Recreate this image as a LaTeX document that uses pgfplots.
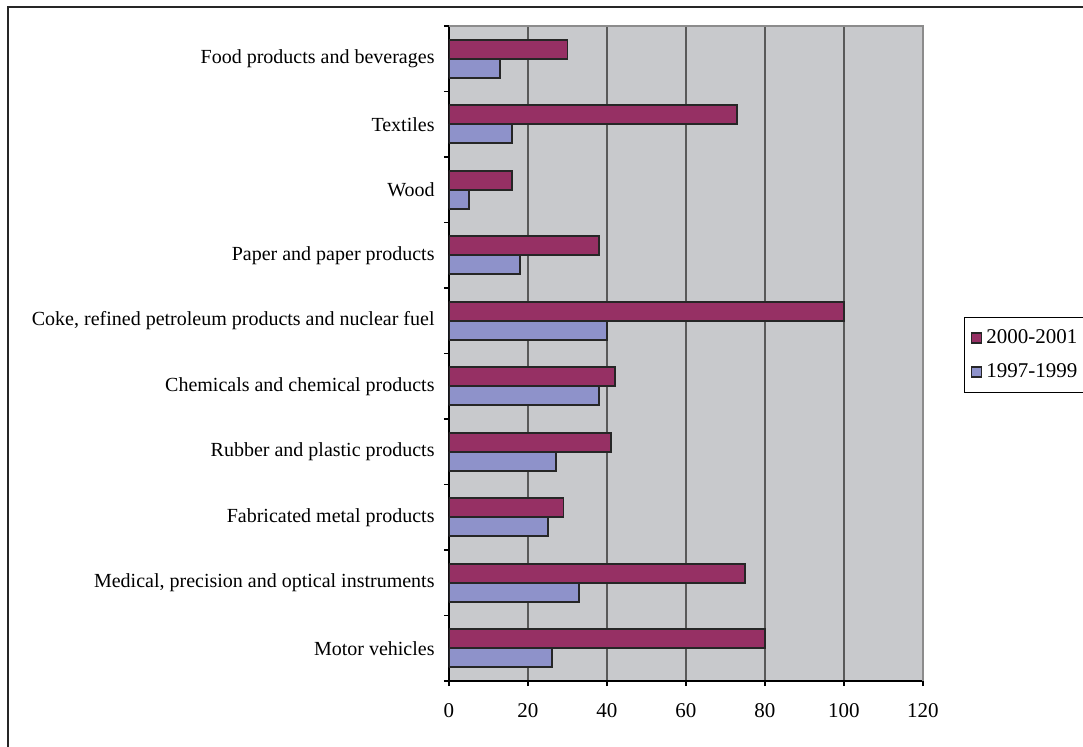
\documentclass[border=0pt]{standalone}
\usepackage{fontspec}
\setmainfont{Liberation Serif}
\usepackage{pgfplots}
\usepackage{pgfplotstable}
\pgfplotsset{compat=1.18}

\definecolor{barA}{RGB}{150,48,100}
\definecolor{barB}{RGB}{142,146,202}
\definecolor{plotbg}{RGB}{200,201,204}

% growth by industry, two periods
\pgfplotstableread{
idx v2000 v1997
9 30 13
8 73 16
7 16 5
6 38 18
5 100 40
4 42 38
3 41 27
2 29 25
1 75 33
0 80 26
}\datatable

\begin{document}
\begin{tikzpicture}[x=1pt,y=1pt]
\useasboundingbox (0,0) rectangle (541.5,373);
\draw[line width=1pt, black!85] (4,-5) -- (4,369.5) -- (550,369.5);
\begin{axis}[
  at={(224.5pt,32.5pt)}, anchor=south west,
  scale only axis, width=237pt, height=327.5pt,
  xbar, bar width=0.29,
  xmin=0, xmax=120, ymin=-0.5, ymax=9.5,
  xtick={0,20,...,120},
  ytick={0,...,9},
  yticklabels={Motor vehicles,
    {Medical, precision and optical instruments},
    Fabricated metal products,
    Rubber and plastic products,
    Chemicals and chemical products,
    {Coke, refined petroleum products and nuclear fuel},
    Paper and paper products,
    Wood,
    Textiles,
    Food products and beverages},
  minor ytick={-0.5,0.5,...,9.5},
  tick align=outside,
  major tick length=2.5pt,
  minor tick length=2.5pt,
  major y tick style={draw=none},
  minor y tick style={black, line width=0.6pt},
  major x tick style={black, line width=0.6pt},
  xtick pos=bottom, ytick pos=left,
  axis x line*=bottom, axis y line*=left,
  axis line style={black, line width=0.7pt},
  axis background/.style={fill=plotbg},
  xmajorgrids,
  major x grid style={black!65, line width=0.6pt},
  xticklabel style={font=\fontsize{10.5}{12}\selectfont, yshift=-5pt},
  yticklabel style={font=\fontsize{10}{12}\selectfont, xshift=-1.2pt},
  /pgf/number format/assume math mode=true,
  legend image code/.code={\draw[#1] (0pt,-2.5pt) rectangle (5pt,2.5pt);},
  legend style={at={(1.0865,0.5557)}, anchor=north west,
    draw=black, line width=0.6pt,
    font=\fontsize{10.5}{12}\selectfont,
    inner xsep=3pt, inner ysep=4pt, row sep=4.5pt,
    cells={anchor=west}},
  extra description/.code={
    \draw[black!45, line width=0.8pt] (rel axis cs:0,1) -- (rel axis cs:1,1) -- (rel axis cs:1,0);
  },
]
\addplot[fill=barA, draw=black!85, line width=0.9pt, bar shift=0.145]
  table[x=v2000, y=idx] {\datatable};
\addlegendentry{2000-2001\hspace*{8pt}}
\addplot[fill=barB, draw=black!85, line width=0.9pt, bar shift=-0.145]
  table[x=v1997, y=idx] {\datatable};
\addlegendentry{1997-1999\hspace*{8pt}}
\end{axis}
\end{tikzpicture}
\end{document}
